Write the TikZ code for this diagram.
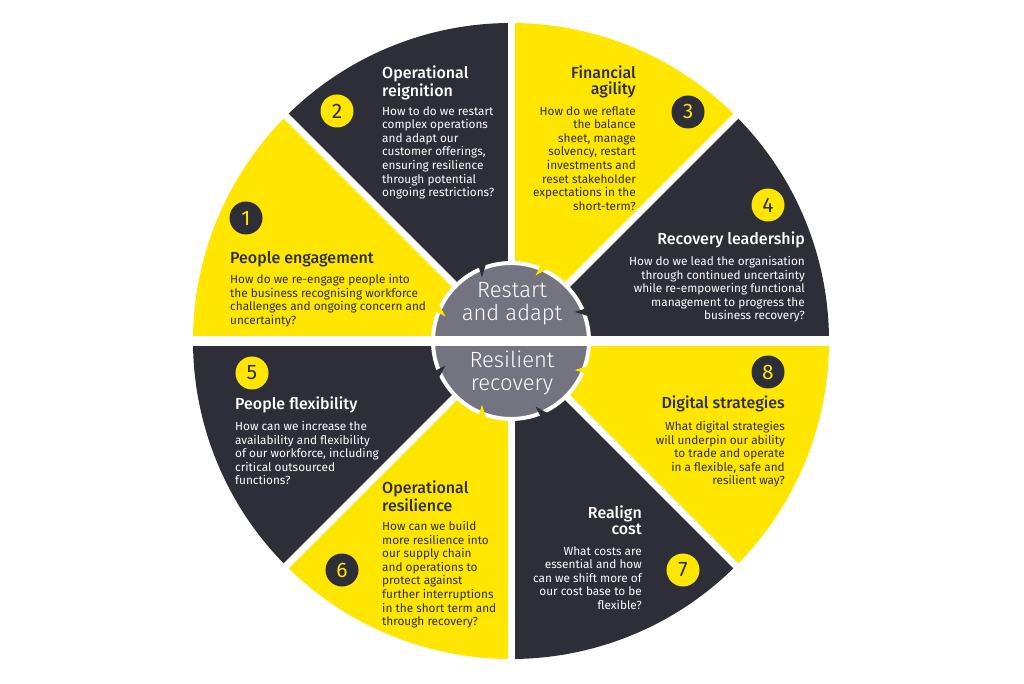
\documentclass[tikz,border=0pt]{standalone}
\usepackage{fontspec}
\setmainfont{Fira Sans}[BoldFont={Fira Sans Medium}]
\newfontfamily\lightfont{Fira Sans Light}
\usepackage{tikz}
\usetikzlibrary{calc}
\definecolor{eyyellow}{HTML}{FFE600}
\definecolor{eydark}{HTML}{2E2E38}
\definecolor{eygrey}{HTML}{747480}

\begin{document}
\begin{tikzpicture}[x=1pt, y=1pt,
        yellow_sector/.style={fill=eyyellow},
        dark_sector/.style={fill=eydark},
        gap_style/.style={draw=white, line width=7pt},
        hub_style/.style={circle, fill=eygrey, draw=white, line width=4pt, minimum size=156pt, inner sep=0pt},
        num_dark/.style={circle, fill=eydark, text=eyyellow, minimum size=33pt, inner sep=0pt, font=\fontsize{21}{21}\selectfont},
        num_yellow/.style={circle, fill=eyyellow, text=eydark, minimum size=33pt, inner sep=0pt, font=\fontsize{21}{21}\selectfont},
        title_on_yellow/.style={text=eydark, inner sep=0pt, font=\fontsize{16}{15.5}\selectfont\bfseries},
        title_on_dark/.style={text=white, inner sep=0pt, font=\fontsize{16}{15.5}\selectfont\bfseries},
        body_on_yellow/.style={text=eydark, inner sep=0pt, font=\fontsize{11.8}{13.6}\selectfont},
        body_on_dark/.style={text=white, inner sep=0pt, font=\fontsize{11.8}{13.6}\selectfont},
        hub_text/.style={text=white, inner sep=0pt, align=center, font=\lightfont\fontsize{22}{23}\selectfont}]

        \useasboundingbox[fill=white] (0,0) rectangle (1024,683);
        \coordinate (O) at (511,342);

        % the eight sectors
        \fill[yellow_sector] (O) -- ++(135:318) arc[start angle=135, end angle=180, radius=318] -- cycle;
        \fill[dark_sector] (O) -- ++(90:318) arc[start angle=90, end angle=135, radius=318] -- cycle;
        \fill[yellow_sector] (O) -- ++(45:318) arc[start angle=45, end angle=90, radius=318] -- cycle;
        \fill[dark_sector] (O) -- ++(0:318) arc[start angle=0, end angle=45, radius=318] -- cycle;
        \fill[dark_sector] (O) -- ++(180:318) arc[start angle=180, end angle=225, radius=318] -- cycle;
        \fill[yellow_sector] (O) -- ++(225:318) arc[start angle=225, end angle=270, radius=318] -- cycle;
        \fill[dark_sector] (O) -- ++(270:318) arc[start angle=270, end angle=315, radius=318] -- cycle;
        \fill[yellow_sector] (O) -- ++(315:318) arc[start angle=315, end angle=360, radius=318] -- cycle;

        % white gaps
        \draw[gap_style] (O) -- ++(45:330);
        \draw[gap_style] (O) -- ++(90:330);
        \draw[gap_style] (O) -- ++(135:330);
        \draw[gap_style] (O) -- ++(225:330);
        \draw[gap_style] (O) -- ++(270:330);
        \draw[gap_style] (O) -- ++(315:330);

        % hub
        \node[hub_style] (hub) at (O) {};

        % teeth
        \fill[yellow_sector] ($(O)+(152.5:82)$) -- ($(O)+(158.5:82)$) -- ($(O)+(159.5:70)$) -- cycle;
        \fill[dark_sector] ($(O)+(107.5:82)$) -- ($(O)+(113.5:82)$) -- ($(O)+(114.5:70)$) -- cycle;
        \fill[yellow_sector] ($(O)+(62.5:82)$) -- ($(O)+(68.5:82)$) -- ($(O)+(69.5:70)$) -- cycle;
        \fill[dark_sector] ($(O)+(17.5:82)$) -- ($(O)+(23.5:82)$) -- ($(O)+(24.5:70)$) -- cycle;
        \fill[dark_sector] ($(O)+(207.5:82)$) -- ($(O)+(201.5:82)$) -- ($(O)+(200.5:70)$) -- cycle;
        \fill[yellow_sector] ($(O)+(252.5:82)$) -- ($(O)+(246.5:82)$) -- ($(O)+(245.5:70)$) -- cycle;
        \fill[dark_sector] ($(O)+(297.5:82)$) -- ($(O)+(291.5:82)$) -- ($(O)+(290.5:70)$) -- cycle;
        \fill[yellow_sector] ($(O)+(342.5:82)$) -- ($(O)+(336.5:82)$) -- ($(O)+(335.5:70)$) -- cycle;

        \draw[gap_style, line width=10pt] ($(O)+(-330,0)$) -- ($(O)+(330,0)$);

        \node[hub_text] (hub_top) at (512,379.5) {Restart\\and adapt};
        \node[hub_text] (hub_bottom) at (512,310.5) {Resilient\\recovery};

        % 1 People engagement
        \node[num_dark] (n1) at (246,465) {1};
        \node[title_on_yellow, anchor=north west] (t1) at (230,432) {People engagement};
        \node[body_on_yellow, anchor=north west, align=left] (b1) at (230,409) {How do we re-engage people into\\the business recognising workforce\\challenges and ongoing concern and\\uncertainty?};

        % 2 Operational reignition
        \node[num_yellow] (n2) at (337,572) {2};
        \node[title_on_dark, anchor=north west, align=left] (t2) at (382,617) {Operational\\reignition};
        \node[body_on_dark, anchor=north west, align=left] (b2) at (382,577) {How to do we restart\\complex operations\\and adapt our\\customer offerings,\\ensuring resilience\\through potential\\ongoing restrictions?};

        % 3 Financial agility
        \node[num_dark] (n3) at (688,571) {3};
        \node[title_on_yellow, anchor=north east, align=right] (t3) at (636,617) {Financial\\agility};
        \node[body_on_yellow, anchor=north east, align=right] (b3) at (636,577) {How do we reflate\\the balance\\sheet, manage\\solvency, restart\\investments and\\reset stakeholder\\expectations in the\\short-term?};

        % 4 Recovery leadership
        \node[num_yellow] (n4) at (768,478) {4};
        \node[title_on_dark, anchor=north east] (t4) at (805,451) {Recovery leadership};
        \node[body_on_dark, anchor=north east, align=right] (b4) at (805,427) {How do we lead the organisation\\through continued uncertainty\\while re-empowering functional\\management to progress the\\business recovery?};

        % 5 People flexibility
        \node[num_yellow] (n5) at (252,310) {5};
        \node[title_on_dark, anchor=north west] (t5) at (235,286) {People flexibility};
        \node[body_on_dark, anchor=north west, align=left] (b5) at (235,262) {How can we increase the\\availability and flexibility\\of our workforce, including\\critical outsourced\\functions?};

        % 6 Operational resilience
        \node[num_dark] (n6) at (342,113) {6};
        \node[title_on_yellow, anchor=north west, align=left] (t6) at (382,202) {Operational\\resilience};
        \node[body_on_yellow, anchor=north west, align=left] (b6) at (382,162) {How can we build\\more resilience into\\our supply chain\\and operations to\\protect against\\further interruptions\\in the short term and\\through recovery?};

        % 7 Realign cost
        \node[num_yellow] (n7) at (683,113) {7};
        \node[title_on_dark, anchor=north east, align=right] (t7) at (642,177) {Realign\\cost};
        \node[body_on_dark, anchor=north east, align=right] (b7) at (642,137) {What costs are\\essential and how\\can we shift more of\\our cost base to be\\flexible?};

        % 8 Digital strategies
        \node[num_dark] (n8) at (768,311) {8};
        \node[title_on_yellow, anchor=north east] (t8) at (785,287) {Digital strategies};
        \node[body_on_yellow, anchor=north east, align=right] (b8) at (785,262) {What digital strategies\\will underpin our ability\\to trade and operate\\in a flexible, safe and\\resilient way?};

\end{tikzpicture}
\end{document}
